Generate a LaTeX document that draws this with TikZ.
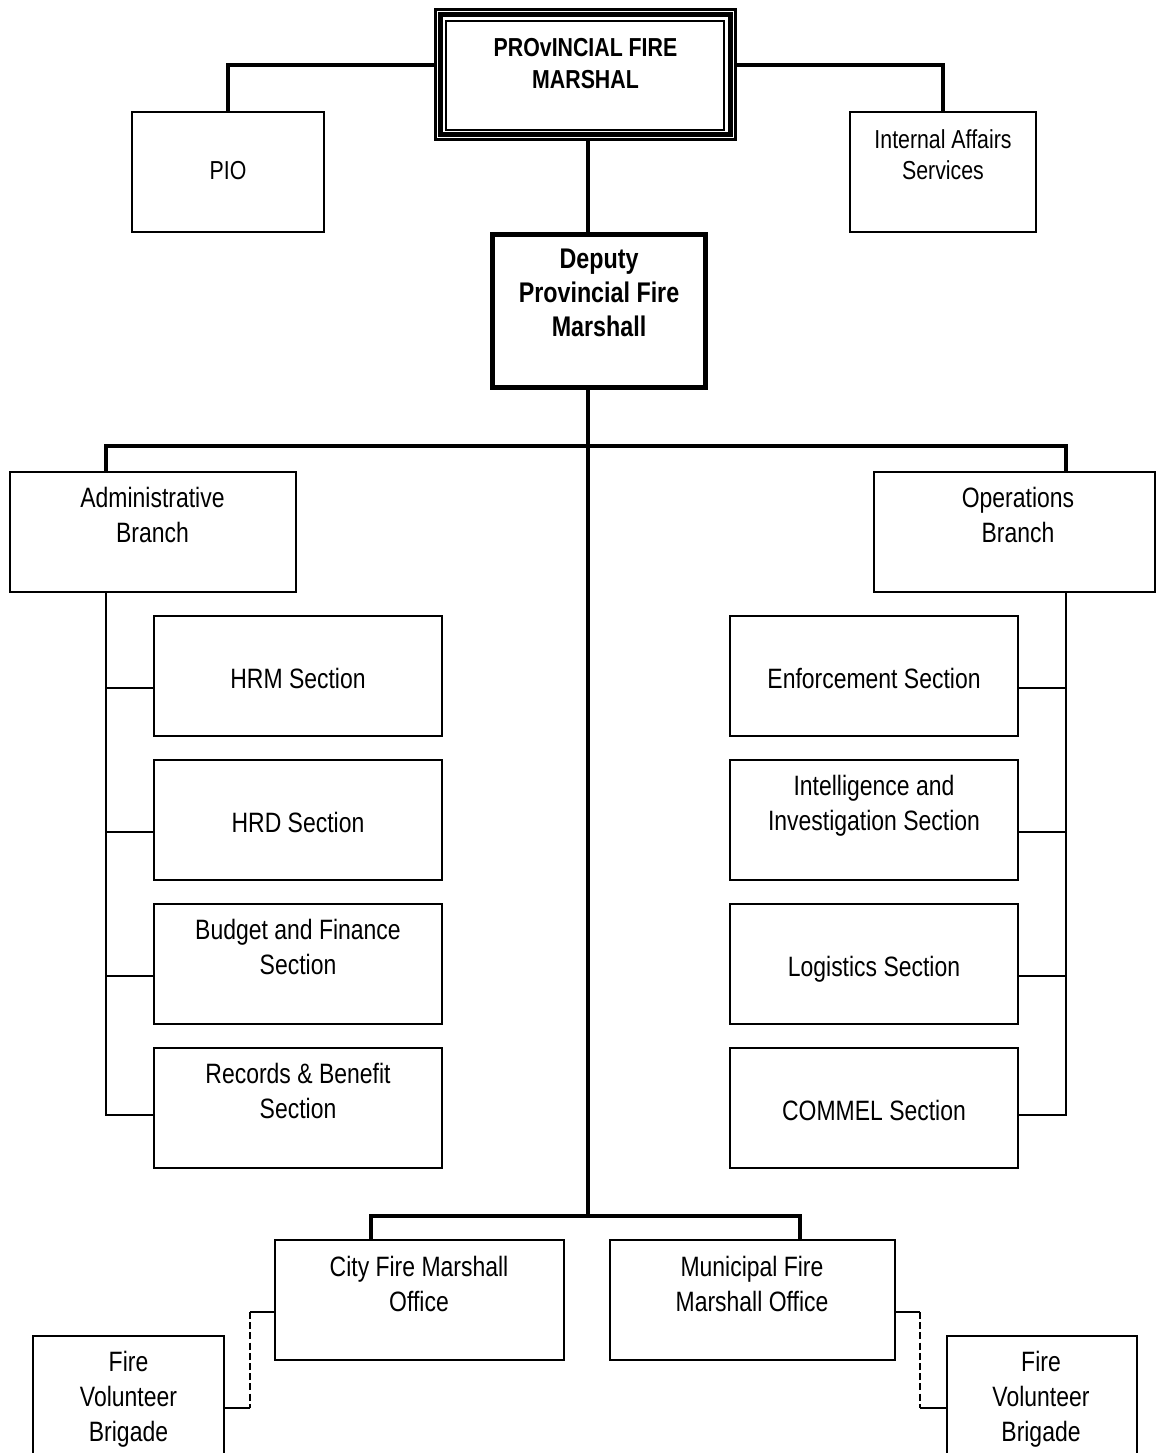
\documentclass[tikz,border=0pt]{standalone}
\usepackage{fontspec}
\setmainfont[FakeStretch=0.82]{Liberation Sans}
\usetikzlibrary{calc}

\begin{document}
\begin{tikzpicture}[x=0.5pt,y=-0.5pt,
  box/.style 2 args={draw, line width=1pt, inner sep=0pt,
    minimum width=#1*0.5pt, minimum height=#2*0.5pt},
  txt/.style={align=center, inner sep=0pt, font=\fontsize{14}{17.5}\selectfont,
    execute at begin node=\strut, execute at end node=\strut},
  txtsmall/.style={txt, font=\fontsize{13}{15.5}\selectfont},
  txthead/.style={txt, font=\bfseries\fontsize{13}{16}\selectfont},
  txtdep/.style={txt, font=\bfseries\fontsize{14.2}{17}\selectfont},
  heavy/.style={line width=1.75pt},
  light/.style={line width=1pt},
  dashlink/.style={line width=1pt, dash pattern=on 3.5pt off 1.6pt}]

\useasboundingbox (0,0) rectangle (1156,1453);
\clip (0,0) rectangle (1156,1453);

% ---- top level ----
\node[box={300}{130.5}, line width=1.5pt] (pfm) at (585,74.25) {};
\draw[line width=2.5pt] ($(pfm.north west)+(6.5,6.5)$) rectangle ($(pfm.south east)+(-6.5,-6.5)$);
\draw[line width=1pt] ($(pfm.north west)+(12.5,13)$) rectangle ($(pfm.south east)+(-12.5,-11.5)$);
\node[txthead] (pfmt) at (585.5,68) {PROvINCIAL FIRE\\MARSHAL};

\node[box={192}{120}] (pio) at (228,172) {};
\node[txtsmall] (piot) at (228,173) {PIO};

\node[box={186}{120}] (ias) at (943,172) {};
\node[txtsmall] (iast) at (943,159) {Internal Affairs\\Services};

\node[box={213}{153}, line width=2.5pt] (dep) at (599,311) {};
\node[txtdep] (dept) at (599,298) {Deputy\\Provincial Fire\\Marshall};

% ---- branches ----
\node[box={286}{120}] (adm) at (153,532) {};
\node[txt] (admt) at (152.5,520.5) {Administrative\\Branch};
\node[box={281}{120}] (ops) at (1014.5,532) {};
\node[txt] (opst) at (1018,520.5) {Operations\\Branch};

% administrative sections
\node[box={288}{120}] (hrm) at (298,676) {};
\node[txt] (hrmt) at (298,681.5) {HRM Section};
\node[box={288}{120}] (hrd) at (298,820) {};
\node[txt] (hrdt) at (298,825.5) {HRD Section};
\node[box={288}{120}] (bud) at (298,964) {};
\node[txt] (budt) at (298,952) {Budget and Finance\\Section};
\node[box={288}{120}] (rec) at (298,1108) {};
\node[txt] (rect) at (298,1096) {Records \& Benefit\\Section};

% operations sections
\node[box={288}{120}] (enf) at (874,676) {};
\node[txt] (enft) at (874,681.5) {Enforcement Section};
\node[box={288}{120}] (int) at (874,820) {};
\node[txt] (intt) at (874,808) {Intelligence and\\Investigation Section};
\node[box={288}{120}] (log) at (874,964) {};
\node[txt] (logt) at (874,969.5) {Logistics Section};
\node[box={288}{120}] (com) at (874,1108) {};
\node[txt] (comt) at (874,1113.5) {COMMEL Section};

% ---- field offices ----
\node[box={289}{120}] (city) at (419.5,1300) {};
\node[txt] (cityt) at (419,1289) {City Fire Marshall\\Office};
\node[box={285}{120}] (mun) at (752.5,1300) {};
\node[txt] (munt) at (752,1289) {Municipal Fire\\Marshall Office};

\node[box={191}{134}] (fvba) at (128.5,1403) {};
\node[txt] (fvbat) at (128.5,1401.5) {Fire\\Volunteer\\Brigade};
\node[box={190}{134}] (fvbb) at (1042,1403) {};
\node[txt] (fvbbt) at (1041,1401.5) {Fire\\Volunteer\\Brigade};

% ---- connectors ----
\draw[heavy] (pfm.west |- 0,65) -| (pio.north);
\draw[heavy] (pfm.east |- 0,65) -| (ias.north);
\draw[heavy] (588,0 |- pfm.south) -- (588,0 |- dep.north);

\coordinate (bus) at (588,1216);
\draw[heavy] (588,0 |- dep.south) -- (bus);
\draw[heavy] (106,0 |- adm.north) |- (1066,446) -- (1066,0 |- ops.north);
\draw[heavy] (371,0 |- city.north) |- (bus) -| (800,0 |- mun.north);

% administrative spine
\draw[light] (106,0 |- adm.south) -- (106,1115) -- ($(rec.west)+(0,7)$);
\draw[light] (106,688) -- ($(hrm.west)+(0,12)$);
\draw[light] (106,832) -- ($(hrd.west)+(0,12)$);
\draw[light] (106,976) -- ($(bud.west)+(0,12)$);

% operations spine
\draw[light] (1066,0 |- ops.south) -- (1066,1115) -- ($(com.east)+(0,7)$);
\draw[light] (1066,688) -- ($(enf.east)+(0,12)$);
\draw[light] (1066,832) -- ($(int.east)+(0,12)$);
\draw[light] (1066,976) -- ($(log.east)+(0,12)$);

% volunteer brigade links
\coordinate (ca) at (250,1312);
\coordinate (cb) at (250,1408);
\draw[light] ($(city.west)+(0,12)$) -- (ca);
\draw[dashlink] (ca) -- (cb);
\draw[light] (cb) -- ($(fvba.east)+(0,5)$);

\coordinate (ma) at (920,1312);
\coordinate (mb) at (920,1408);
\draw[light] ($(mun.east)+(0,12)$) -- (ma);
\draw[dashlink] (ma) -- (mb);
\draw[light] (mb) -- ($(fvbb.west)+(0,5)$);
\end{tikzpicture}
\end{document}
